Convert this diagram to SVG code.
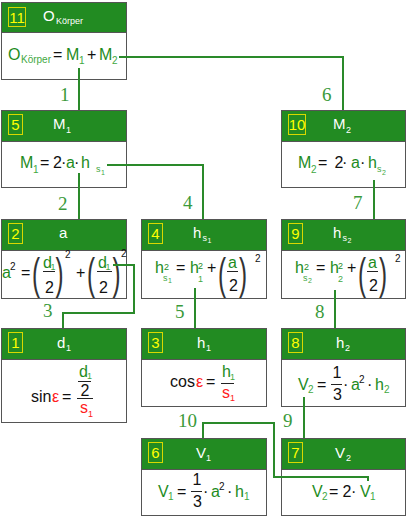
<svg xmlns="http://www.w3.org/2000/svg" width="407" height="517" viewBox="0 0 407 517">
<style>
.hd{fill:#228B22;stroke:#555;stroke-width:1}
.bd{fill:#fff;stroke:#555;stroke-width:1}
.bg{fill:none;stroke:#d8d800;stroke-width:1}
.bn{font-family:"Liberation Sans",Arial,sans-serif;font-size:15px;fill:#ffff00;text-anchor:middle}
.tt{font-family:"Liberation Sans",Arial,sans-serif;font-size:15px;fill:#fff}
.ts{font-size:9px}
.f{font-family:"Liberation Sans",Arial,sans-serif;font-size:16px;fill:#1e8c1e}
.k{fill:#111}
.r{fill:#ff2020}
.sb{font-size:10px;fill:#3fa83f}
.sm{font-size:9px}
.ss{font-size:7px}
.sp{font-size:10px;fill:#111}
.pr{font-family:"Liberation Sans",Arial,sans-serif;font-size:44px;fill:#333}
.fb{stroke:#222;stroke-width:1}
.cn{fill:none;stroke:#2a8a2a;stroke-width:2}
.lb{font-family:"Liberation Serif","Times New Roman",serif;font-size:19px;fill:#3a9a3a}
</style>

<g id="n11">
<rect class="hd" x="1.5" y="2.5" width="125" height="30"/>
<rect class="bd" x="1.5" y="32.5" width="125" height="47"/>
<rect class="bg" x="8.5" y="7.5" width="17" height="19"/>
<text class="bn" x="17" y="23">11</text>
<text class="tt" y="20.5"><tspan x="43">O</tspan><tspan class="ts" x="56" y="24">Körper</tspan></text>
<text class="f" y="60"><tspan x="8">O</tspan><tspan class="sb" x="21" y="63">Körper</tspan><tspan class="k" x="53" y="60">=</tspan><tspan x="66">M</tspan><tspan class="sb" x="79" y="64">1</tspan><tspan class="k" x="87" y="60">+</tspan><tspan x="99">M</tspan><tspan class="sb" x="112" y="64">2</tspan></text>
</g>

<g id="n5">
<rect class="hd" x="1.5" y="110.5" width="125" height="31"/>
<rect class="bd" x="1.5" y="141.5" width="125" height="46"/>
<rect class="bg" x="8.5" y="114.5" width="14" height="20"/>
<text class="bn" x="15.5" y="130">5</text>
<text class="tt" y="129"><tspan x="53">M</tspan><tspan class="ts" x="66" y="133">1</tspan></text>
<text class="f" y="168"><tspan x="20">M</tspan><tspan class="sb" x="33" y="173">1</tspan><tspan class="k" x="40" y="168">=</tspan><tspan class="k" x="53">2</tspan><tspan class="k" x="61">·</tspan><tspan x="66">a</tspan><tspan class="k" x="74">·</tspan><tspan x="81">h</tspan><tspan class="sb sm" x="96" y="172">s</tspan><tspan class="sb ss" x="101" y="175">1</tspan></text>
</g>

<g id="n10">
<rect class="hd" x="281.5" y="110.5" width="124" height="31"/>
<rect class="bd" x="281.5" y="141.5" width="124" height="46"/>
<rect class="bg" x="288.5" y="114.5" width="17" height="20"/>
<text class="bn" x="297" y="130">10</text>
<text class="tt" y="129"><tspan x="333">M</tspan><tspan class="ts" x="346" y="133">2</tspan></text>
<text class="f" y="168"><tspan x="298">M</tspan><tspan class="sb" x="311" y="173">2</tspan><tspan class="k" x="318" y="168">=</tspan><tspan class="k" x="334.5">2</tspan><tspan class="k" x="342">·</tspan><tspan x="351">a</tspan><tspan class="k" x="360">·</tspan><tspan x="368">h</tspan><tspan class="sb sm" x="377" y="172">s</tspan><tspan class="sb ss" x="382" y="175">2</tspan></text>
</g>

<g id="n2">
<rect class="hd" x="1.5" y="219.5" width="125" height="31"/>
<rect class="bd" x="1.5" y="250.5" width="125" height="48"/>
<rect class="bg" x="8.5" y="223.5" width="14" height="20"/>
<text class="bn" x="15.5" y="239">2</text>
<text class="tt" x="59" y="238">a</text>
<text class="f" y="278"><tspan x="2">a</tspan><tspan class="sp" x="10" y="270">2</tspan><tspan class="k" x="21" y="278">=</tspan></text>
<text class="pr" transform="translate(32,288.5) scale(0.55,1)">(</text>
<text class="f" y="268"><tspan x="43">d</tspan><tspan class="sb sm" x="50.5" y="270">1</tspan><tspan class="k" x="45" y="293">2</tspan></text>
<line class="fb" x1="43" y1="271.5" x2="55" y2="271.5"/>
<text class="pr" transform="translate(55.5,288.5) scale(0.55,1)">)</text>
<text class="f"><tspan class="sp" x="65" y="258">2</tspan><tspan class="k" x="76" y="278">+</tspan></text>
<text class="pr" transform="translate(87,288.5) scale(0.55,1)">(</text>
<text class="f" y="268"><tspan x="98">d</tspan><tspan class="sb sm" x="105.5" y="270">1</tspan><tspan class="k" x="99" y="293">2</tspan></text>
<line class="fb" x1="97" y1="271.5" x2="112" y2="271.5"/>
<text class="pr" transform="translate(112.5,288.5) scale(0.55,1)">)</text>
<text class="f"><tspan class="sp" x="121" y="257">2</tspan></text>
</g>

<g id="n4">
<rect class="hd" x="141.5" y="219.5" width="125" height="31"/>
<rect class="bd" x="141.5" y="250.5" width="125" height="48"/>
<rect class="bg" x="148.5" y="223.5" width="14" height="20"/>
<text class="bn" x="155.5" y="239">4</text>
<text class="tt" y="237.5"><tspan x="193">h</tspan><tspan class="ts" x="202.5" y="241">s</tspan><tspan style="font-size:7px" x="207.5" y="243">1</tspan></text>
<text class="f" y="273"><tspan x="155">h</tspan><tspan class="sm" x="164" y="270">2</tspan><tspan class="sb sm" x="163" y="281">s</tspan><tspan class="sb ss" x="168" y="283">1</tspan><tspan class="k" x="176" y="273">=</tspan><tspan x="190">h</tspan><tspan class="sm" x="198" y="269">2</tspan><tspan class="sb sm" x="198" y="282">1</tspan><tspan class="k" x="207" y="273">+</tspan></text>
<text class="pr" transform="translate(218,289) scale(0.55,1)">(</text>
<text class="f"><tspan x="228" y="268">a</tspan><tspan class="k" x="229" y="291">2</tspan></text>
<line class="fb" x1="227" y1="271.5" x2="238" y2="271.5"/>
<text class="pr" transform="translate(239,289) scale(0.55,1)">)</text>
<text class="f"><tspan class="sp" x="255" y="262">2</tspan></text>
</g>

<g id="n9">
<rect class="hd" x="281.5" y="219.5" width="124" height="31"/>
<rect class="bd" x="281.5" y="250.5" width="124" height="48"/>
<rect class="bg" x="288.5" y="223.5" width="14" height="20"/>
<text class="bn" x="295.5" y="239">9</text>
<text class="tt" y="237.5"><tspan x="333">h</tspan><tspan class="ts" x="342.5" y="241">s</tspan><tspan style="font-size:7px" x="347.5" y="243">2</tspan></text>
<text class="f" y="273"><tspan x="295">h</tspan><tspan class="sm" x="304" y="270">2</tspan><tspan class="sb sm" x="303" y="281">s</tspan><tspan class="sb ss" x="308" y="283">2</tspan><tspan class="k" x="316" y="273">=</tspan><tspan x="330">h</tspan><tspan class="sm" x="338" y="269">2</tspan><tspan class="sb sm" x="338" y="282">2</tspan><tspan class="k" x="347" y="273">+</tspan></text>
<text class="pr" transform="translate(358,289) scale(0.55,1)">(</text>
<text class="f"><tspan x="368" y="268">a</tspan><tspan class="k" x="369" y="291">2</tspan></text>
<line class="fb" x1="367" y1="271.5" x2="378" y2="271.5"/>
<text class="pr" transform="translate(379,289) scale(0.55,1)">)</text>
<text class="f"><tspan class="sp" x="395" y="262">2</tspan></text>
</g>

<g id="n1">
<rect class="hd" x="1.5" y="328.5" width="125" height="31"/>
<rect class="bd" x="1.5" y="359.5" width="125" height="63"/>
<rect class="bg" x="8.5" y="332.5" width="14" height="20"/>
<text class="bn" x="15.5" y="348">1</text>
<text class="tt" y="347.5"><tspan x="57">d</tspan><tspan class="ts" x="66" y="351">1</tspan></text>
<text class="f" y="402"><tspan class="k" x="31">sin</tspan><tspan class="r" x="52">ε</tspan><tspan class="k" x="62">=</tspan></text>
<text class="f"><tspan x="79" y="377">d</tspan><tspan class="sb sm" x="87" y="379">1</tspan><tspan class="k" x="80.5" y="396">2</tspan><tspan class="r" x="80" y="413">s</tspan><tspan class="r sm" x="88" y="417">1</tspan></text>
<line class="fb" x1="78" y1="381.5" x2="91" y2="381.5"/>
<line class="fb" x1="77" y1="398.5" x2="93" y2="398.5"/>
</g>

<g id="n3">
<rect class="hd" x="141.5" y="328.5" width="125" height="31"/>
<rect class="bd" x="141.5" y="359.5" width="125" height="47"/>
<rect class="bg" x="148.5" y="332.5" width="14" height="20"/>
<text class="bn" x="155.5" y="348">3</text>
<text class="tt" y="347.5"><tspan x="197">h</tspan><tspan class="ts" x="206" y="351">1</tspan></text>
<text class="f" y="387"><tspan class="k" x="170">cos</tspan><tspan class="r" x="196">ε</tspan><tspan class="k" x="206">=</tspan></text>
<text class="f"><tspan x="222" y="377">h</tspan><tspan class="sb sm" x="230" y="380">1</tspan><tspan class="r" x="222" y="398">s</tspan><tspan class="r sm" x="230" y="401">1</tspan></text>
<line class="fb" x1="221" y1="383.5" x2="234" y2="383.5"/>
</g>

<g id="n8">
<rect class="hd" x="281.5" y="328.5" width="124" height="31"/>
<rect class="bd" x="281.5" y="359.5" width="124" height="47"/>
<rect class="bg" x="288.5" y="332.5" width="14" height="20"/>
<text class="bn" x="295.5" y="348">8</text>
<text class="tt" y="347.5"><tspan x="336">h</tspan><tspan class="ts" x="345" y="351">2</tspan></text>
<text class="f" y="390"><tspan x="298">V</tspan><tspan class="sb" x="308" y="393">2</tspan><tspan class="k" x="317" y="390">=</tspan><tspan class="k" x="332.5" y="378">1</tspan><tspan class="k" x="333" y="400">3</tspan><tspan class="k" x="343" y="390">·</tspan><tspan x="351">a</tspan><tspan class="sp" x="359" y="383">2</tspan><tspan class="k" x="367" y="390">·</tspan><tspan x="375">h</tspan><tspan class="sb" x="384" y="393">2</tspan></text>
<line class="fb" x1="331" y1="384.5" x2="342" y2="384.5"/>
</g>

<g id="n6">
<rect class="hd" x="141.5" y="438.5" width="125" height="31"/>
<rect class="bd" x="141.5" y="469.5" width="125" height="46"/>
<rect class="bg" x="148.5" y="442.5" width="14" height="20"/>
<text class="bn" x="155.5" y="458">6</text>
<text class="tt" y="458"><tspan x="196">V</tspan><tspan class="ts" x="206" y="461">1</tspan></text>
<text class="f" y="497"><tspan x="158">V</tspan><tspan class="sb" x="168" y="500">1</tspan><tspan class="k" x="177" y="497">=</tspan><tspan class="k" x="192.5" y="485">1</tspan><tspan class="k" x="193" y="507">3</tspan><tspan class="k" x="203" y="497">·</tspan><tspan x="211">a</tspan><tspan class="sp" x="219" y="490">2</tspan><tspan class="k" x="227" y="497">·</tspan><tspan x="235">h</tspan><tspan class="sb" x="244" y="500">1</tspan></text>
<line class="fb" x1="191" y1="491.5" x2="202" y2="491.5"/>
</g>

<g id="n7">
<rect class="hd" x="281.5" y="438.5" width="124" height="31"/>
<rect class="bd" x="281.5" y="469.5" width="124" height="46"/>
<rect class="bg" x="288.5" y="442.5" width="14" height="20"/>
<text class="bn" x="295.5" y="458">7</text>
<text class="tt" y="458"><tspan x="335">V</tspan><tspan class="ts" x="346" y="461">2</tspan></text>
<text class="f" y="497"><tspan x="312">V</tspan><tspan class="sb" x="322" y="500">2</tspan><tspan class="k" x="329" y="497">=</tspan><tspan class="k" x="342.5">2</tspan><tspan class="k" x="351">·</tspan><tspan x="360">V</tspan><tspan class="sb" x="370" y="500">1</tspan></text>
</g>

<g id="connectors">
<path class="cn" d="M79,68 V110"/>
<path class="cn" d="M119,57 H343 V110"/>
<path class="cn" d="M79,173 V219"/>
<path class="cn" d="M107,165 H203 V219"/>
<path class="cn" d="M374,180 V219"/>
<path class="cn" d="M113,265 H134 V313 H63 V328"/>
<path class="cn" d="M195,288 V328"/>
<path class="cn" d="M335,290 V328"/>
<path class="cn" d="M304,397 V438"/>
<path class="cn" d="M203,438 V423 H274 V477 H368 V481"/>
<text class="lb" x="60" y="101">1</text>
<text class="lb" x="322" y="101">6</text>
<text class="lb" x="58" y="210">2</text>
<text class="lb" x="183" y="209">4</text>
<text class="lb" x="353" y="209">7</text>
<text class="lb" x="43" y="317">3</text>
<text class="lb" x="175" y="318">5</text>
<text class="lb" x="315" y="318">8</text>
<text class="lb" x="283" y="427">9</text>
<text class="lb" x="178" y="427">10</text>
</g>
</svg>
